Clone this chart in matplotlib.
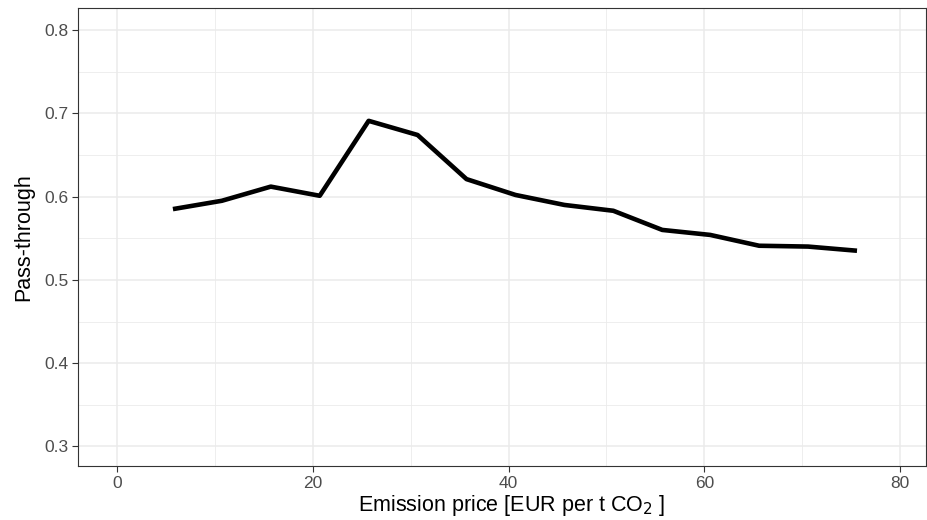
import matplotlib
matplotlib.use("Agg")
import matplotlib.pyplot as plt
from matplotlib.ticker import MultipleLocator

price = [5.7, 10.7, 15.7, 20.7, 25.7, 30.7, 35.7, 40.7, 45.7, 50.7, 55.7, 60.6, 65.6, 70.6, 75.6]
passthrough = [0.585, 0.595, 0.612, 0.601, 0.691, 0.674, 0.621, 0.602, 0.590, 0.583, 0.560, 0.554, 0.541, 0.540, 0.535]
xticks = [0, 20, 40, 60, 80]
yticks = [0.3, 0.4, 0.5, 0.6, 0.7, 0.8]

plt.rcParams['font.family'] = ['Liberation Sans', 'DejaVu Sans']

fig = plt.figure(figsize=(9.27, 5.2), dpi=100)
ax = fig.add_axes([78/927, 54/520, 848/927, 458/520])

ax.plot(price, passthrough, color='black', lw=3.3, solid_capstyle='butt',
        solid_joinstyle='round', zorder=3)

ax.set_xlim(-4, 82.65)
ax.set_ylim(0.2765, 0.8265)
ax.set_xticks(xticks)
ax.set_yticks(yticks)
ax.xaxis.set_minor_locator(MultipleLocator(10))
ax.yaxis.set_minor_locator(MultipleLocator(0.05))
ax.set_xticklabels([str(v) for v in xticks])
ax.set_yticklabels([f"{v:.1f}" for v in yticks])

ax.grid(True, which='major', color='#EBEBEB', lw=1.1, zorder=0)
ax.grid(True, which='minor', color='#EBEBEB', lw=0.6, zorder=0)
ax.set_axisbelow(True)

for s in ax.spines.values():
    s.set_color('#333333')
    s.set_linewidth(0.8)

ax.tick_params(which='major', length=4, width=0.8, color='#333333', labelcolor='#4D4D4D', labelsize=12.5, pad=3)
ax.tick_params(which='minor', length=0)

ax.set_xlabel('Emission price [EUR per t CO$_2$ ]', fontsize=15.5, color='black')
ax.xaxis.set_label_coords(0.511, -0.058)
ax.set_ylabel('Pass-through', fontsize=15.5, color='black', labelpad=7)

fig.savefig('out.png', dpi=100)
